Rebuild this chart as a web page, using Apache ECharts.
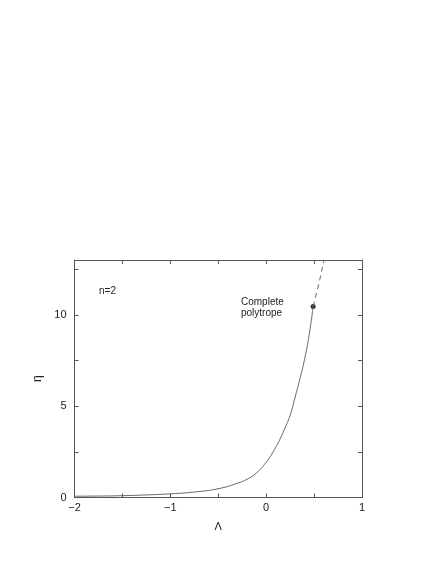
<!DOCTYPE html>
<html>
<head>
<meta charset="utf-8">
<script src="https://cdn.jsdelivr.net/npm/echarts@6/dist/echarts.min.js"></script>
<style>
  html, body { margin: 0; padding: 0; background: #fff; }
  #chart { width: 436px; height: 564px; }
</style>
</head>
<body>
<div id="chart"></div>
<script>
// solid branch of eta(Lambda), n=2
var lambdaSolid = [-2, -1.75, -1.5, -1.25, -1, -0.75, -0.5, -0.3, -0.2, -0.1, 0, 0.05, 0.1, 0.15, 0.2, 0.25, 0.3, 0.35, 0.4, 0.45, 0.49];
var etaSolid = [0.07, 0.08, 0.1, 0.14, 0.2, 0.3, 0.48, 0.78, 1.0, 1.35, 1.93, 2.3, 2.75, 3.25, 3.85, 4.5, 5.45, 6.45, 7.55, 8.95, 10.45];
// dashed continuation above the complete polytrope
var lambdaDash = [0.49, 0.55, 0.604];
var etaDash = [10.45, 11.7, 13];
// complete polytrope point
var polyPoint = [0.49, 10.45];

function pairs(xs, ys) {
  var out = [];
  for (var i = 0; i < xs.length; i++) out.push([xs[i], ys[i]]);
  return out;
}

var chart = echarts.init(document.getElementById('chart'));
var frame = { show: true, onZero: false, lineStyle: { color: '#555', width: 1 } };
var tick = { show: true, inside: true, length: 4, lineStyle: { color: '#555' } };
var minor = { show: true, splitNumber: 2, length: 4, lineStyle: { color: '#555' } };
var font = 'Liberation Sans, Arial, sans-serif';

chart.setOption({
  animation: false,
  grid: { left: 74.5, right: 74, top: 260, bottom: 66.5 },
  xAxis: [
    {
      type: 'value', min: -2, max: 1, interval: 1,
      name: 'Λ', nameLocation: 'middle', nameGap: 24,
      nameTextStyle: { color: '#222', fontSize: 11, fontFamily: font },
      axisLine: frame, axisTick: tick, minorTick: minor,
      splitLine: { show: false },
      axisLabel: {
        color: '#222', fontSize: 11, fontFamily: font, margin: 5,
        formatter: function (v) { return v < 0 ? '\u2212' + (-v) : String(v); }
      }
    },
    {
      type: 'value', min: -2, max: 1, interval: 1, position: 'top',
      axisLine: frame, axisTick: tick, minorTick: minor,
      splitLine: { show: false }, axisLabel: { show: false }
    }
  ],
  yAxis: [
    {
      type: 'value', min: 0, max: 13, interval: 5,
      name: 'η', nameLocation: 'middle', nameGap: 28, nameRotate: 90,
      nameTextStyle: { color: '#222', fontSize: 12, fontFamily: font },
      axisLine: frame, axisTick: tick, minorTick: minor,
      splitLine: { show: false },
      axisLabel: { color: '#222', fontSize: 11, fontFamily: font, margin: 8, showMaxLabel: false }
    },
    {
      type: 'value', min: 0, max: 13, interval: 5, position: 'right',
      axisLine: frame, axisTick: tick, minorTick: minor,
      splitLine: { show: false }, axisLabel: { show: false }
    }
  ],
  series: [
    {
      type: 'line', smooth: 0.5, showSymbol: false,
      lineStyle: { color: '#666', width: 1 },
      data: pairs(lambdaSolid, etaSolid)
    },
    {
      type: 'line', smooth: false, showSymbol: false,
      lineStyle: { color: '#666', width: 1, type: [5, 4] },
      data: pairs(lambdaDash, etaDash)
    },
    {
      type: 'scatter', symbolSize: 5,
      itemStyle: { color: '#000' },
      data: [polyPoint]
    }
  ],
  graphic: [
    {
      type: 'text', left: 99, top: 286,
      style: { text: 'n=2', fill: '#222', font: '10px ' + font }
    },
    {
      type: 'text', left: 241, top: 297,
      style: { text: 'Complete\npolytrope', fill: '#222', font: '10px ' + font, lineHeight: 11 }
    }
  ]
});
</script>
</body>
</html>
